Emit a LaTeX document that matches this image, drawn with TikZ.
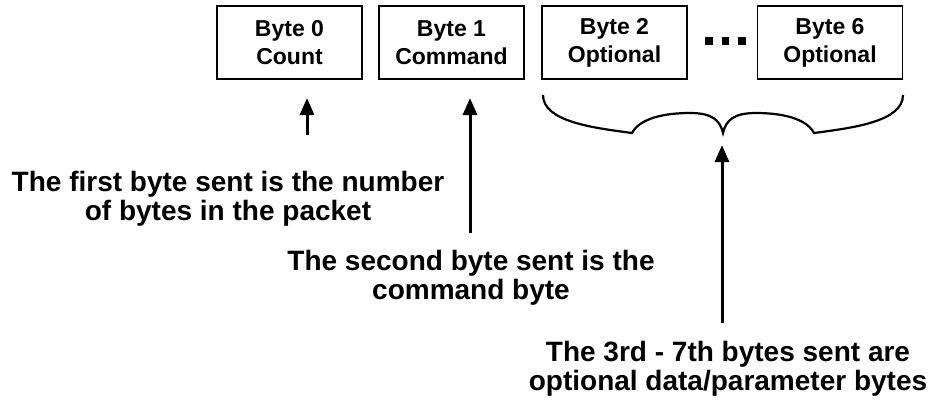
\documentclass[tikz,border=0pt]{standalone}
\usepackage{fontspec}
\setmainfont{Liberation Sans}
\usetikzlibrary{arrows.meta}

\tikzset{
	bytebox/.style={draw,line width=1.6pt,minimum width=145pt,minimum height=73pt,inner sep=0pt,align=center,font=\fontsize{23}{28}\selectfont\bfseries},
	note/.style={anchor=north,align=center,inner sep=0pt,font=\fontsize{28}{29.5}\selectfont\bfseries},
	ptr/.style={line width=3pt,-{Triangle[width=14pt,length=17pt]}}
}

\begin{document}
\begin{tikzpicture}[x=1pt,y=-1pt]
	\useasboundingbox (0,0) rectangle (930,400);

	\node[bytebox] (b0) at (289.5,42.5) {Byte 0\\Count};
	\node[bytebox] (b1) at (451.5,42.5) {Byte 1\\Command};
	\node[bytebox] (b2) at (614.5,42.5) {Byte 2\\Optional};
	\node[bytebox] (b6) at (830,42.5) {Byte 6\\Optional};
	\foreach \x in {705,721.5,738} { \fill (\x,37) rectangle +(7.5,8);}

	% brace under bytes 2..6
	\draw[line width=2.2pt] (543,95) .. controls (543,122) and (595,128) .. (632,133)
		.. controls (640,118) and (665,113) .. (690,113) .. controls (712,113) and (720,120) .. (723,133)
		.. controls (726,120) and (734,113) .. (756,113) .. controls (781,113) and (806,118) .. (814,133)
		.. controls (851,128) and (903,122) .. (903,95);

	\node[note] (n0) at (228,171) {The first byte sent is the number\\of bytes in the packet};
	\node[note] (n1) at (471,250) {The second byte sent is the\\command byte};
	\node[note] (n2) at (728,341) {The 3rd - 7th bytes sent are\\optional data/parameter bytes};

	\coordinate (s0) at (307,135);
	\coordinate (e0) at (307,98);
	\coordinate (s1) at (470,233);
	\coordinate (e1) at (470,98);
	\coordinate (s2) at (722,323);
	\coordinate (e2) at (722,145);
	\draw[ptr] (s0) -- (e0);
	\draw[ptr] (s1) -- (e1);
	\draw[ptr] (s2) -- (e2);
\end{tikzpicture}
\end{document}
